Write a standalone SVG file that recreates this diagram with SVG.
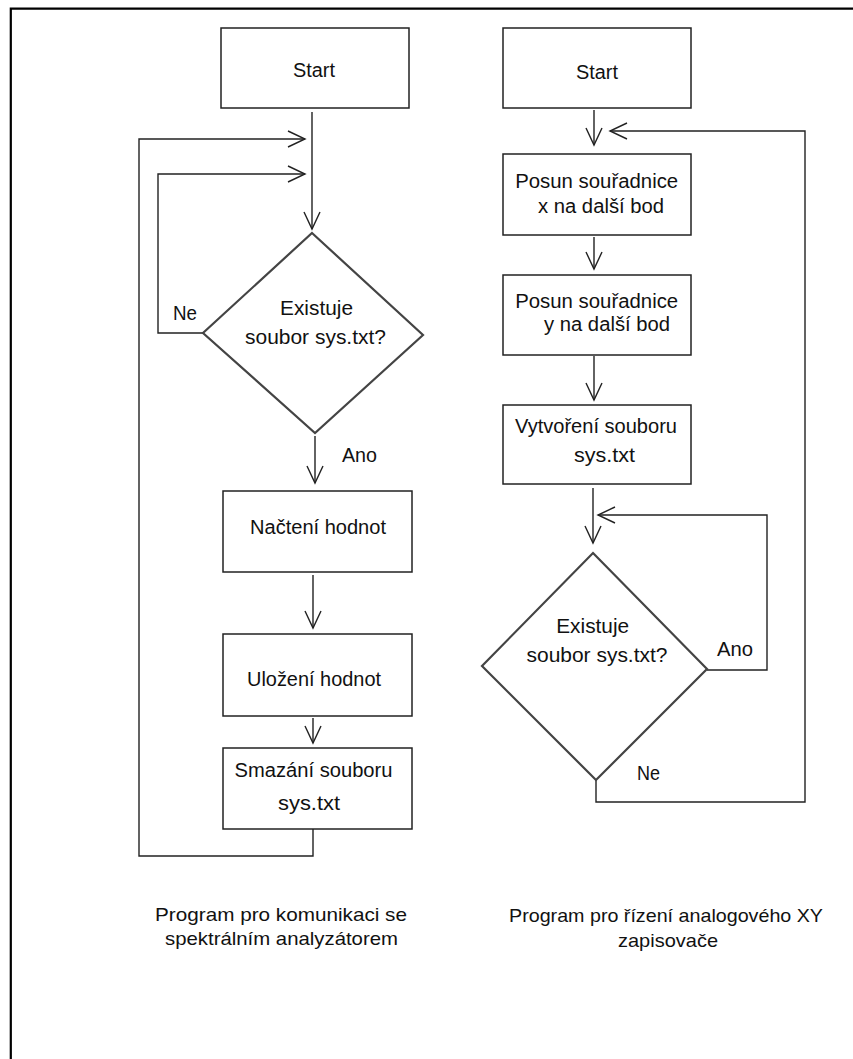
<svg xmlns="http://www.w3.org/2000/svg" width="853" height="1059" viewBox="0 0 853 1059">
<defs>
<style>
.box{fill:#fff;stroke:#222;stroke-width:1.5}
.dia{fill:#fff;stroke:#444;stroke-width:2.2}
.ln{fill:none;stroke:#222;stroke-width:1.4}
.t{font-family:"Liberation Sans",Arial,sans-serif;font-size:20px;fill:#111}
.cap{font-size:19px}
.c{text-anchor:middle}
</style>
<marker id="ar" viewBox="-18 -9 20 18" refX="0" refY="0" markerWidth="20" markerHeight="18" markerUnits="userSpaceOnUse" orient="auto">
<path d="M-17,-8 L0,0 L-17,8" fill="none" stroke="#222" stroke-width="1.4"/>
</marker>
</defs>
<rect width="853" height="1059" fill="#fff"/>
<path d="M10.8,1059 L10.8,8.7 L853,8.7" fill="none" stroke="#000" stroke-width="2.2"/>

<g id="connectors">
<path class="ln" d="M312,112 L312,229" marker-end="url(#ar)"/>
<path class="ln" d="M313,829 L313,856 L139,856 L139,139 L305,139" marker-end="url(#ar)"/>
<path class="ln" d="M203,333 L158,333 L158,174 L305,174" marker-end="url(#ar)"/>
<path class="ln" d="M315,436 L315,483" marker-end="url(#ar)"/>
<path class="ln" d="M313,575 L313,628" marker-end="url(#ar)"/>
<path class="ln" d="M313,718 L313,743" marker-end="url(#ar)"/>
<path class="ln" d="M594,110 L594,145" marker-end="url(#ar)"/>
<path class="ln" d="M596,780 L596,802 L805,802 L805,131 L610,131" marker-end="url(#ar)"/>
<path class="ln" d="M594,237 L594,269" marker-end="url(#ar)"/>
<path class="ln" d="M594,356 L594,400" marker-end="url(#ar)"/>
<path class="ln" d="M593,488 L593,543" marker-end="url(#ar)"/>
<path class="ln" d="M707,670 L767,670 L767,515 L598,515" marker-end="url(#ar)"/>
</g>

<g id="l-start">
<rect class="box" x="221" y="28" width="188" height="80"/>
<text class="t c" x="314" y="77" textLength="42" lengthAdjust="spacingAndGlyphs">Start</text>
</g>
<g id="l-decision">
<path class="dia" d="M312,233 L423,335 L315,433 L203,333 Z"/>
<text class="t c" x="316.5" y="315" textLength="73" lengthAdjust="spacingAndGlyphs">Existuje</text>
<text class="t c" x="315.5" y="344" textLength="141" lengthAdjust="spacingAndGlyphs">soubor sys.txt?</text>
</g>
<g id="l-labels">
<text class="t" x="173" y="320" textLength="24" lengthAdjust="spacingAndGlyphs">Ne</text>
<text class="t" x="342" y="462" textLength="35" lengthAdjust="spacingAndGlyphs">Ano</text>
</g>
<g id="l-nacteni">
<rect class="box" x="223" y="491" width="189" height="81"/>
<text class="t c" x="318" y="534" textLength="136" lengthAdjust="spacingAndGlyphs">Načtení hodnot</text>
</g>
<g id="l-ulozeni">
<rect class="box" x="223" y="634" width="189" height="82"/>
<text class="t c" x="314" y="686" textLength="134" lengthAdjust="spacingAndGlyphs">Uložení hodnot</text>
</g>
<g id="l-smazani">
<rect class="box" x="223" y="748" width="189" height="81"/>
<text class="t c" x="313.5" y="777" textLength="158" lengthAdjust="spacingAndGlyphs">Smazání souboru</text>
<text class="t c" x="309" y="810" textLength="62" lengthAdjust="spacingAndGlyphs">sys.txt</text>
</g>

<g id="r-start">
<rect class="box" x="503" y="28" width="188" height="80"/>
<text class="t c" x="597" y="79" textLength="42" lengthAdjust="spacingAndGlyphs">Start</text>
</g>
<g id="r-posun-x">
<rect class="box" x="503" y="154" width="188" height="81"/>
<text class="t c" x="596.7" y="188" textLength="163" lengthAdjust="spacingAndGlyphs">Posun souřadnice</text>
<text class="t c" x="601" y="213" textLength="126" lengthAdjust="spacingAndGlyphs">x na další bod</text>
</g>
<g id="r-posun-y">
<rect class="box" x="503" y="275" width="188" height="80"/>
<text class="t c" x="596.7" y="308" textLength="163" lengthAdjust="spacingAndGlyphs">Posun souřadnice</text>
<text class="t c" x="607" y="331" textLength="126" lengthAdjust="spacingAndGlyphs">y na další bod</text>
</g>
<g id="r-vytvoreni">
<rect class="box" x="503" y="405" width="188" height="79"/>
<text class="t c" x="596" y="433" textLength="162" lengthAdjust="spacingAndGlyphs">Vytvoření souboru</text>
<text class="t c" x="604.5" y="462" textLength="61" lengthAdjust="spacingAndGlyphs">sys.txt</text>
</g>
<g id="r-decision">
<path class="dia" d="M593,553 L707,669 L596,780 L482,666 Z"/>
<text class="t c" x="592.7" y="633" textLength="73" lengthAdjust="spacingAndGlyphs">Existuje</text>
<text class="t c" x="597" y="662" textLength="141" lengthAdjust="spacingAndGlyphs">soubor sys.txt?</text>
</g>
<g id="r-labels">
<text class="t" x="717" y="656" textLength="36" lengthAdjust="spacingAndGlyphs">Ano</text>
<text class="t" x="637" y="780" textLength="23" lengthAdjust="spacingAndGlyphs">Ne</text>
</g>

<g id="captions">
<text class="t cap" x="155" y="921" textLength="252" lengthAdjust="spacingAndGlyphs">Program pro komunikaci se</text>
<text class="t cap" x="165" y="945" textLength="233" lengthAdjust="spacingAndGlyphs">spektrálním analyzátorem</text>
<text class="t cap" x="509" y="922" textLength="314" lengthAdjust="spacingAndGlyphs">Program pro řízení analogového XY</text>
<text class="t cap" x="618" y="947" textLength="100" lengthAdjust="spacingAndGlyphs">zapisovače</text>
</g>
</svg>
